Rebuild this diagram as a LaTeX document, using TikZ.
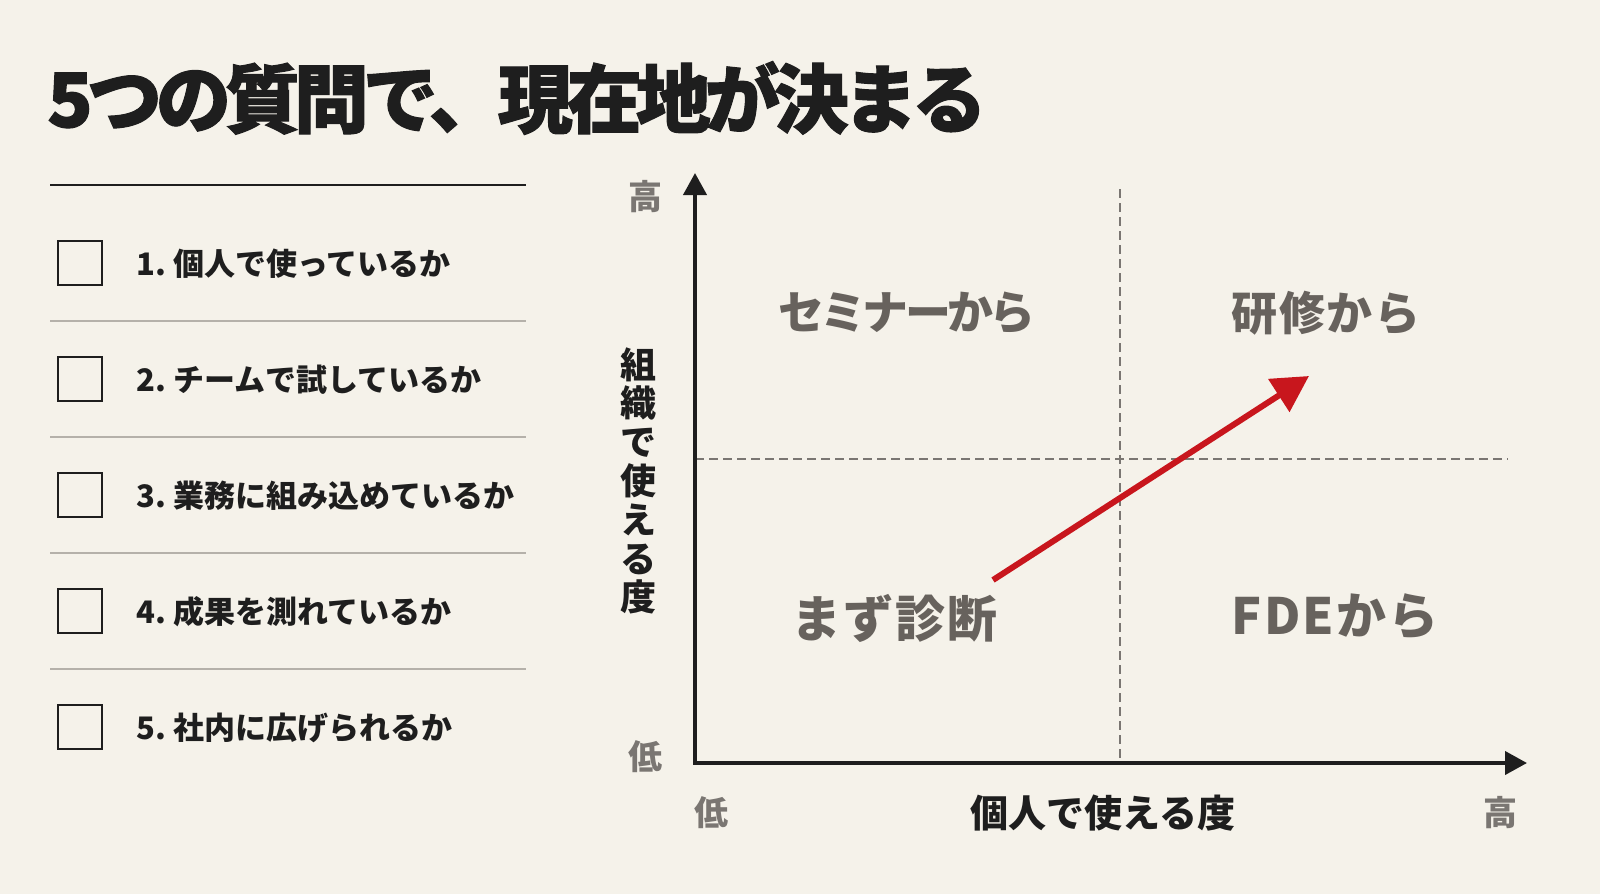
\documentclass[tikz,border=0pt]{standalone}
\usepackage{fontspec}
\setmainfont{Noto Sans CJK JP}
\newfontfamily\titlefont[BoldFeatures={FakeBold=1.4}, LetterSpace=-8]{Noto Sans CJK JP}
\newfontfamily\quadfont[LetterSpace=4]{Noto Sans CJK JP}
\newfontfamily\kanafont[LetterSpace=-8]{Noto Sans CJK JP}
\usetikzlibrary{arrows.meta}
\definecolor{paper}{HTML}{F5F2EA}
\definecolor{ink}{HTML}{1E1E1E}
\definecolor{quad}{HTML}{67625D}
\definecolor{tickgray}{HTML}{7A7672}
\definecolor{rule}{HTML}{B5B1AA}
\definecolor{move}{HTML}{C8161D}
\begin{document}
\begin{tikzpicture}[x=1pt, y=-1pt, every node/.style={inner sep=0pt, text=ink},
    chkbox/.style={draw=ink, line width=2.5pt, minimum size=44pt},
    item/.style={anchor=west, font=\bfseries\fontsize{31}{38}\selectfont},
    quadtext/.style={text=quad, font=\quadfont\bfseries\fontsize{46}{54}\selectfont},
    ticklabel/.style={text=tickgray, font=\bfseries\fontsize{34}{40}\selectfont},
    axis/.style={draw=ink, line width=4pt, line join=miter,
                 {Triangle[length=22pt, width=23pt]}-{Triangle[length=22pt, width=23pt]}},
    guide/.style={draw=tickgray, line width=1.6pt, dash pattern=on 9pt off 5pt},
    sep/.style={draw=rule, line width=1.5pt}]
    \fill[paper] (0,0) rectangle (1600,894);
    \node[anchor=west, font=\titlefont\bfseries\fontsize{75}{80}\selectfont] (title) at (47,98) {5つの質問で、現在地が決まる};

    % checklist
    \draw[ink, line width=2.5pt] (50,185) -- (526,185);
    \foreach \q [count=\i] in {個人で使っているか, チームで試しているか, 業務に組み込めているか, 成果を測れているか, 社内に広げられるか} {
        \node[chkbox] (box\i) at (80,147+116*\i) {};
        \node[item] (q\i) at (136,148+116*\i) {\i.\ \q};
    }
    \foreach \i in {1,...,4}
        \draw[sep] (50,205+116*\i) -- (526,205+116*\i);

    % matrix
    \coordinate (o) at (695,763);
    \coordinate (ytip) at (695,173);
    \coordinate (xtip) at (1527,763);
    \coordinate (vtop) at (1120,189);
    \coordinate (vbot) at (1120,763);
    \coordinate (hl) at (695,459);
    \coordinate (hr) at (1508,459);
    \draw[guide] (vtop) -- (vbot);
    \draw[guide] (hl) -- (hr);
    \draw[axis] (ytip) -- (o) -- (xtip);

    \node[quadtext, font=\kanafont\bfseries\fontsize{46}{54}\selectfont] (seminar) at (907,313) {セミナーから};
    \node[quadtext] (kenshu) at (1326,313) {研修から};
    \node[quadtext, font=\quadfont\bfseries\fontsize{50}{56}\selectfont] (shindan) at (894,618) {まず診断};
    \node[quadtext, font=\quadfont\bfseries\fontsize{50}{56}\selectfont] (fde) at (1335,617) {FDEから};

    \coordinate (from) at (993,580);
    \coordinate (to) at (1309,376);
    \draw[move, line width=6pt, -{Triangle[length=36pt, width=38pt]}] (from) -- (to);

    \node[ticklabel] (yhi) at (645,197) {高};
    \node[ticklabel] (ylo) at (645,757) {低};
    \node[ticklabel] (xlo) at (711,813) {低};
    \node[ticklabel] (xhi) at (1500,813) {高};
    \node[font=\bfseries\fontsize{38}{40}\selectfont] (xname) at (1103,813) {個人で使える度};
    \node[align=center, font=\bfseries\fontsize{36}{38.8}\selectfont] (yname) at (638,481) {組\\織\\で\\使\\え\\る\\度};
\end{tikzpicture}
\end{document}
